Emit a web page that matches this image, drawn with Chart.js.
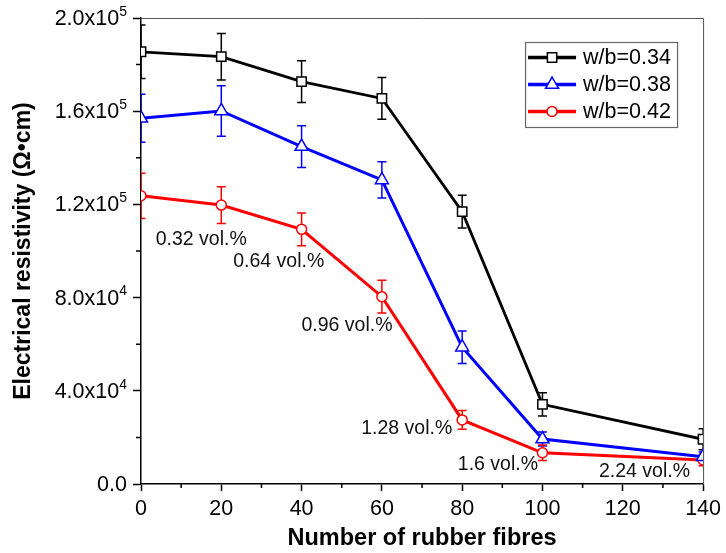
<!DOCTYPE html>
<html>
<head>
<meta charset="utf-8">
<script src="https://cdn.jsdelivr.net/npm/chart.js"></script>
<style>
  html, body { margin: 0; padding: 0; background: #fff; }
</style>
</head>
<body>
<canvas id="resistivityChart" width="726" height="553"></canvas>
<script>
// number of rubber fibres (x)
const fibres = [0, 20, 40, 60, 80, 100, 140];
const seriesLabels = ['w/b=0.34', 'w/b=0.38', 'w/b=0.42'];

// electrical resistivity, ohm*cm
const wb034 = [185500, 183400, 172700, 165500, 116900, 34200, 19200];
const wb038 = [157000, 160100, 144800, 130500, 58700, 19300, 11700];
const wb042 = [123700, 119700, 109300, 80400, 27500, 13400, 10300];

// error bars (+/-)
const wb034Err = [11500, 10000, 9000, 9000, 7000, 5000, 4500];
const wb038Err = [10300, 10800, 9000, 7800, 7000, 3000, 2000];
const wb042Err = [9700, 7900, 7000, 7000, 4000, 3300, 2500];

// y tick labels (mantissa + exponent)
const yTickValues = [0, 40000, 80000, 120000, 160000, 200000];
const yTickBase = ['0.0', '4.0x10', '8.0x10', '1.2x10', '1.6x10', '2.0x10'];
const yTickExp = ['', '4', '4', '5', '5', '5'];

// fibre volume fraction notes, placed in data units
const noteLabels = ['0.32 vol.%', '0.64 vol.%', '0.96 vol.%', '1.28 vol.%', '1.6 vol.%', '2.24 vol.%'];
const noteX = [15, 34.3, 51.3, 66.2, 88.9, 125.4];
const noteY = [105000, 95300, 68000, 23600, 8200, 5200];

const FONT = "'Liberation Sans', Arial, sans-serif";

function toPoints(vals) {
  return fibres.map((f, i) => ({ x: f, y: vals[i] }));
}

const errs = [wb034Err, wb038Err, wb042Err];

const decorPlugin = {
  id: 'decor',
  beforeDatasetsDraw(chart) {
    const { ctx, chartArea: a } = chart;
    const xs = chart.scales.x, ys = chart.scales.y;
    ctx.save();
    ctx.beginPath();
    ctx.rect(a.left, a.top, a.right - a.left, a.bottom - a.top);
    ctx.clip();
    chart.data.datasets.forEach((ds, k) => {
      ctx.strokeStyle = ds.borderColor;
      ctx.lineWidth = 1.5;
      ds.data.forEach((p, j) => {
        const px = xs.getPixelForValue(p.x);
        const t = ys.getPixelForValue(p.y + errs[k][j]);
        const b = ys.getPixelForValue(p.y - errs[k][j]);
        ctx.beginPath();
        ctx.moveTo(px, t); ctx.lineTo(px, b);
        ctx.moveTo(px - 4.5, t); ctx.lineTo(px + 4.5, t);
        ctx.moveTo(px - 4.5, b); ctx.lineTo(px + 4.5, b);
        ctx.stroke();
      });
    });
    ctx.restore();
  },
  afterDraw(chart) {
    const { ctx, chartArea: a } = chart;
    const xs = chart.scales.x, ys = chart.scales.y;
    ctx.save();

    // top and right frame
    ctx.strokeStyle = '#555';
    ctx.lineWidth = 1;
    ctx.beginPath();
    ctx.moveTo(a.left, a.top + 0.5);
    ctx.lineTo(a.right + 0.5, a.top + 0.5);
    ctx.lineTo(a.right + 0.5, a.bottom);
    ctx.stroke();

    // minor ticks
    ctx.strokeStyle = '#000';
    ctx.lineWidth = 1.5;
    ctx.beginPath();
    for (let v = 20000; v < 200000; v += 40000) {
      const py = ys.getPixelForValue(v);
      ctx.moveTo(a.left - 5, py); ctx.lineTo(a.left, py);
    }
    for (let v = 10; v < 140; v += 20) {
      const px = xs.getPixelForValue(v);
      ctx.moveTo(px, a.bottom); ctx.lineTo(px, a.bottom + 4);
    }
    ctx.stroke();

    // y tick labels with superscripts
    ctx.fillStyle = '#000';
    ctx.textBaseline = 'middle';
    const rightEdge = a.left - 14;
    yTickValues.forEach((v, i) => {
      const py = ys.getPixelForValue(v) + 1;
      ctx.font = '14px ' + FONT;
      const ew = yTickExp[i] ? ctx.measureText(yTickExp[i]).width : 0;
      if (yTickExp[i]) {
        ctx.textAlign = 'left';
        ctx.fillText(yTickExp[i], rightEdge - ew, py - 7);
      }
      ctx.font = '21.5px ' + FONT;
      ctx.textAlign = 'right';
      ctx.fillText(yTickBase[i], rightEdge - ew, py);
    });

    // volume fraction notes
    ctx.font = '19.5px ' + FONT;
    ctx.fillStyle = '#111';
    ctx.textAlign = 'center';
    noteLabels.forEach((t, i) => {
      ctx.fillText(t, xs.getPixelForValue(noteX[i]), ys.getPixelForValue(noteY[i]));
    });

    // legend
    const lx = a.right - 178, ly = a.top + 24;
    ctx.fillStyle = '#fff';
    ctx.fillRect(lx, ly, 152, 85);
    ctx.strokeStyle = '#666';
    ctx.lineWidth = 1.2;
    ctx.strokeRect(lx + 0.5, ly + 0.5, 152, 85);
    chart.data.datasets.forEach((ds, k) => {
      const ry = ly + 15.5 + k * 27;
      ctx.strokeStyle = ds.borderColor;
      ctx.lineWidth = 3.5;
      ctx.beginPath();
      ctx.moveTo(lx + 3, ry); ctx.lineTo(lx + 51, ry);
      ctx.stroke();
      ctx.fillStyle = ds.pointBackgroundColor;
      ctx.lineWidth = ds.pointBorderWidth;
      Chart.helpers.drawPoint(ctx, {
        pointStyle: ds.pointStyle, radius: ds.pointRadius, rotation: 0,
        borderWidth: ds.pointBorderWidth
      }, lx + 27, ry);
      ctx.fillStyle = '#000';
      ctx.font = '21.5px ' + FONT;
      ctx.textAlign = 'left';
      ctx.textBaseline = 'middle';
      ctx.fillText(ds.label, lx + 58, ry + 1);
    });
    ctx.restore();
  }
};

const ctx = document.getElementById('resistivityChart').getContext('2d');
new Chart(ctx, {
  type: 'line',
  data: {
    datasets: [
      {
        label: seriesLabels[0], data: toPoints(wb034),
        borderColor: '#000000', borderWidth: 2.8,
        pointStyle: 'rect', pointRadius: 6.6, pointBorderWidth: 1.5,
        pointBackgroundColor: '#ffffff', pointBorderColor: '#000000', clip: 0
      },
      {
        label: seriesLabels[1], data: toPoints(wb038),
        borderColor: '#0000ff', borderWidth: 3,
        pointStyle: 'triangle', pointRadius: 7.5, pointBorderWidth: 1.5,
        pointBackgroundColor: '#ffffff', pointBorderColor: '#0000ff', clip: 0
      },
      {
        label: seriesLabels[2], data: toPoints(wb042),
        borderColor: '#ff0000', borderWidth: 3,
        pointStyle: 'circle', pointRadius: 5, pointBorderWidth: 1.5,
        pointBackgroundColor: '#ffffff', pointBorderColor: '#ff0000', clip: 0
      }
    ]
  },
  options: {
    responsive: false,
    animation: false,
    devicePixelRatio: 1,
    layout: { padding: { top: 18, right: 21, left: 0, bottom: 0 } },
    plugins: { legend: { display: false }, tooltip: { enabled: false } },
    scales: {
      x: {
        type: 'linear', min: 0, max: 140,
        ticks: { stepSize: 20, color: '#000', padding: 5, maxRotation: 0,
          font: { family: FONT, size: 21.5 } },
        grid: { drawOnChartArea: false, tickLength: 7, tickWidth: 1.5, tickColor: '#000' },
        border: { color: '#000', width: 1.5 },
        title: { display: true, text: 'Number of rubber fibres', color: '#000',
          font: { family: FONT, size: 23.5, weight: 'bold' }, padding: { top: 0, bottom: 0 } },
        afterFit(s) { s.height = 69; }
      },
      y: {
        type: 'linear', min: 0, max: 200000,
        ticks: { stepSize: 40000, display: false },
        grid: { drawOnChartArea: false, tickLength: 8, tickWidth: 1.5, tickColor: '#000' },
        border: { color: '#000', width: 1.5 },
        title: { display: true, text: 'Electrical resistivity (Ω•cm)', color: '#000',
          font: { family: FONT, size: 23, weight: 'bold' }, padding: { top: 10, bottom: 0 } },
        afterFit(s) { s.width = 141; }
      }
    }
  },
  plugins: [decorPlugin]
});
</script>
</body>
</html>
